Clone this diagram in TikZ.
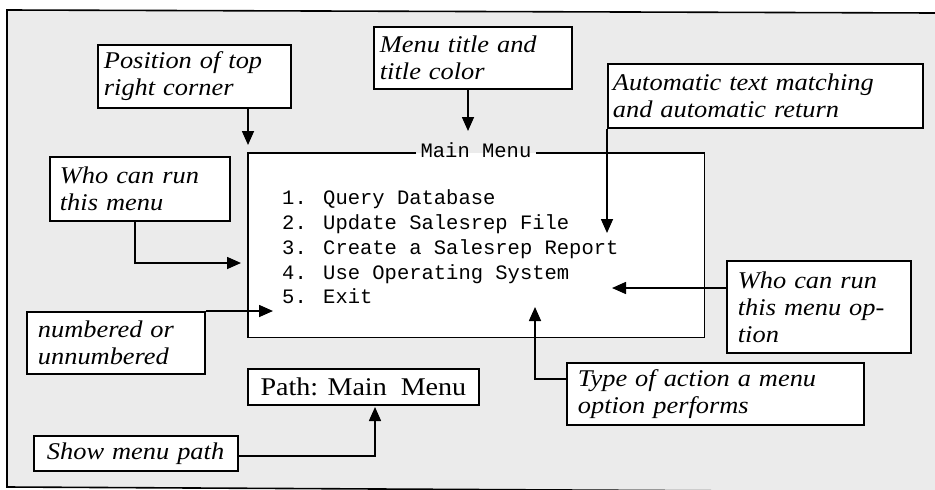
\documentclass[tikz,border=0pt]{standalone}
\usepackage{fontspec}
\setmainfont{Liberation Serif}[FakeStretch=1.1]
\newfontfamily\monof{Liberation Mono}
\usetikzlibrary{arrows.meta,positioning}
\begin{document}
\begin{tikzpicture}[x=1pt,y=-1pt,
  cbox/.style={draw,fill=white,line width=1.8pt,align=left,anchor=north west,
    inner xsep=10pt,inner ysep=0pt,font=\itshape\fontsize{24}{27}\selectfont},
  arr/.style={line width=1.6pt,-{Triangle[length=14pt,width=12pt]}},
  frame/.style={line width=1.6pt}]
\useasboundingbox (0,0) rectangle (935,490);
% background frame
\fill[gray!16] (935,13) -- (7,10) -- (7,487) -- (935,492) -- cycle;
\draw[frame] (935,13) -- (7,10) -- (7,487) -- (935,492);
% menu box
\node[fill=white,minimum width=456pt,minimum height=184pt,anchor=north west,inner sep=0pt] (menu) at (248,153) {};
\node[font=\monof\fontsize{20.5}{24}\selectfont,inner xsep=4pt,inner ysep=0pt] (mtl) at (476,150) {Main Menu};
\draw[frame] (menu.north -| mtl.west) -- (menu.north west) -- (menu.south west) -- (menu.south east) -- (menu.north east) -- (menu.north -| mtl.east);
\node[font=\monof\fontsize{20.5}{24.75}\selectfont,align=left,anchor=west,inner sep=0pt] (items) at (282,247)
 {1. Query Database\\2. Update Salesrep File\\3. Create a Salesrep Report\\4. Use Operating System\\5. Exit};
% callouts
\node[cbox,inner xsep=6pt,text width=181pt,minimum height=63pt] (pos) at (97,44) {Position of top\\right corner};
\node[cbox,inner xsep=6pt,text width=186pt,minimum height=62pt] (mtitle) at (373,26) {Menu title and\\title color};
\node[cbox,inner xsep=5pt,text width=305pt,minimum height=64pt] (auto) at (607,63) {Automatic text matching\\and automatic return};
\node[cbox,text width=160pt,minimum height=64pt] (who) at (49,156) {Who can run\\this menu};
\node[cbox,inner xsep=11pt,text width=156pt,minimum height=62pt] (numb) at (26,311) {numbered or\\unnumbered};
\node[cbox,font=\fontsize{25.5}{28}\selectfont,inner xsep=0pt,minimum width=231pt,minimum height=36pt] (path) at (247,368) {Path: Main\ \ Menu};
\node[cbox,inner xsep=13pt,text width=178pt,minimum height=35pt] (show) at (33,435) {Show menu path};
\node[cbox,inner xsep=11pt,text width=162pt,minimum height=92pt] (whoopt) at (726,260) {Who can run\\this menu op-\\tion};
\node[cbox,inner xsep=11pt,text width=275pt,minimum height=62pt] (type) at (566,362) {Type of action a menu\\option performs};
% arrow tips
\coordinate (tipA) at (468,131);
\coordinate (tipB) at (607,233);
\coordinate (tipC) at (241,263);
\coordinate (tipD) at (273,311);
\coordinate (tipE) at (375,407);
\coordinate (tipF) at (612,288);
\coordinate (tipG) at (535,307);
% connectors
\draw[arr] (pos.south -| menu.north west) -- ([yshift=8pt]menu.north west);
\draw[arr] (mtitle.south -| tipA) -- (tipA);
\draw[arr] (auto.south west) -- (tipB);
\draw[arr] (who.south -| 135,0) |- (tipC);
\draw[arr] (numb.north east) -- (tipD);
\draw[arr] (show.east |- 0,456) -| (tipE);
\draw[arr] (whoopt.west |- tipF) -- (tipF);
\draw[arr] ([yshift=-17pt]type.north west) -| (tipG);
\end{tikzpicture}
\end{document}
